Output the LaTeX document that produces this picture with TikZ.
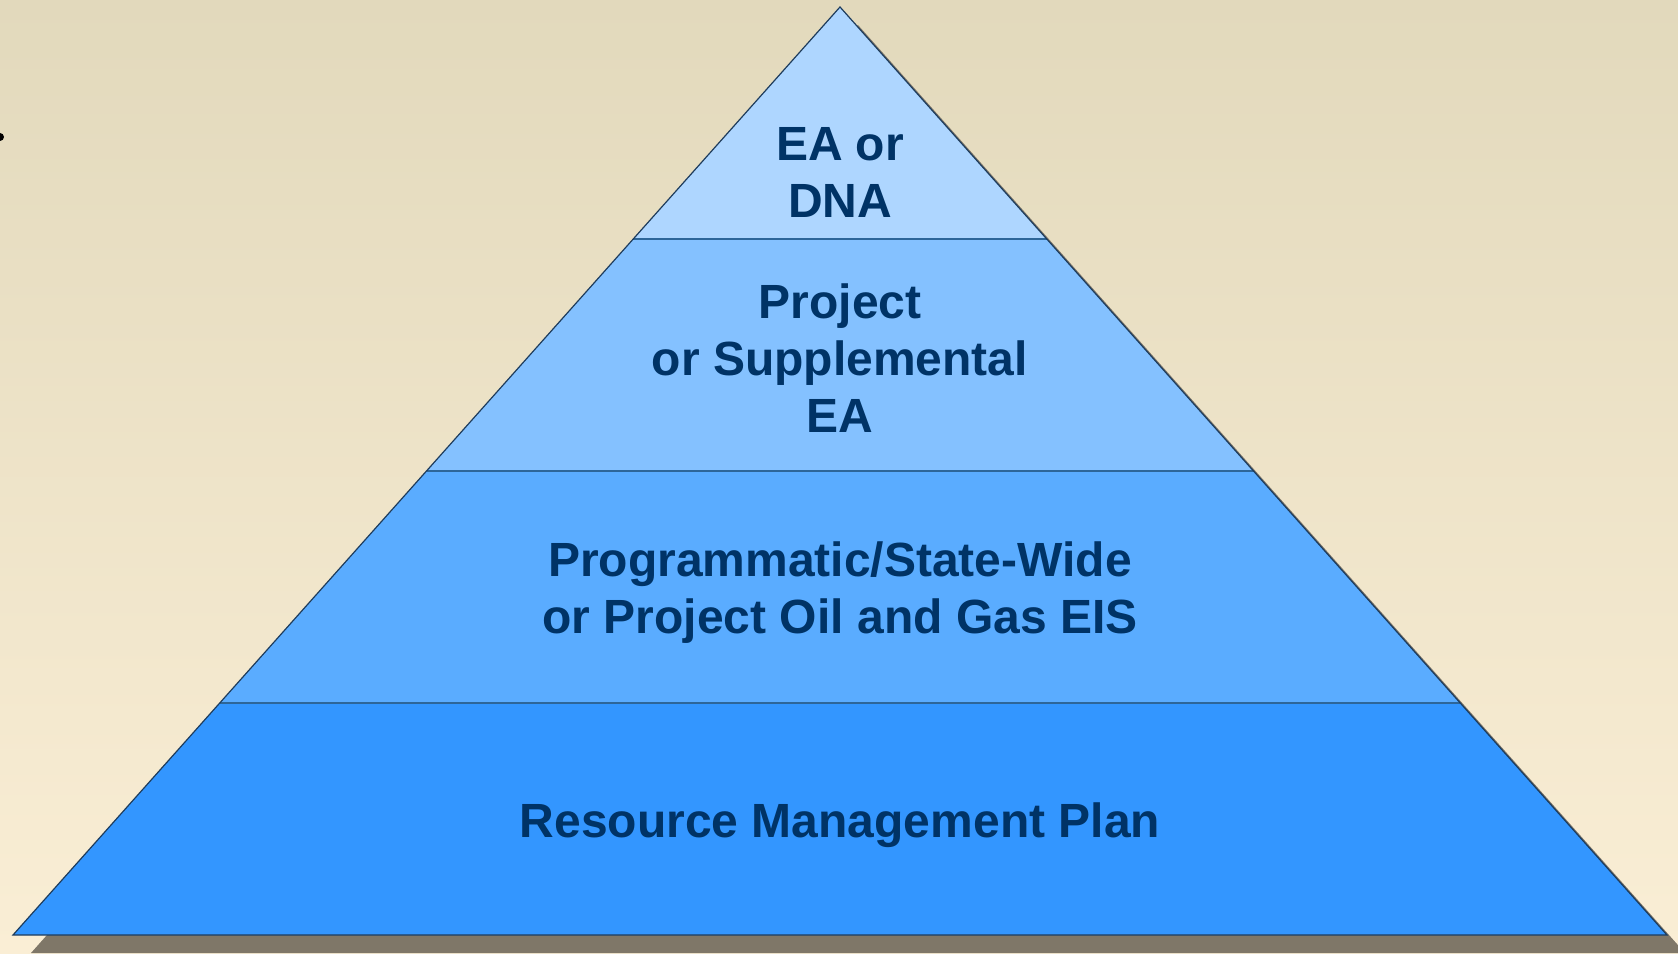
\documentclass[tikz,border=0pt]{standalone}
\usepackage{fontspec}
\setmainfont{Liberation Sans}
\usetikzlibrary{calc}

\definecolor{bgtop}{HTML}{E2D9BC}
\definecolor{bgbottom}{HTML}{FAEED5}
\definecolor{shadowgray}{HTML}{7F7768}
\definecolor{edgeblue}{HTML}{1E3C5C}
\definecolor{lineblue}{HTML}{2D6699}
\definecolor{textblue}{HTML}{003366}
\definecolor{tierA}{HTML}{AED6FF}
\definecolor{tierB}{HTML}{84C1FF}
\definecolor{tierC}{HTML}{5AACFF}
\definecolor{tierD}{HTML}{3396FF}

\tikzset{
    tierlabel/.style = {align = center, text = textblue, font = \fontsize{48}{57}\selectfont\bfseries},
    divider/.style = {draw = lineblue, line width = 1.5pt},
    outline/.style = {draw = edgeblue, line width = 1.2pt, line join = miter}
}

\begin{document}
\begin{tikzpicture}[x = 1pt, y = 1pt]
            \useasboundingbox (0, 0) rectangle (1678, 953);
            \clip (0, 0) rectangle (1678, 953);
            \shade[top color = bgtop, bottom color = bgbottom] (0, 0) rectangle (1678, 953);

            \coordinate (apex) at (840, 946);
            \coordinate (bl) at (13, 18);
            \coordinate (br) at (1667, 18);

            % shadow
            \fill[shadowgray] ($(apex) + (18, -18)$) -- ($(bl) + (18, -18)$) -- ($(br) + (18, -18)$) -- cycle;

            % tiers
            \foreach \i/\col in {0/tierA, 1/tierB, 2/tierC, 3/tierD} {
                \fill[\col] ($(apex)!{\i / 4}!(bl)$) -- ($(apex)!{(\i + 1) / 4}!(bl)$) -- ($(apex)!{(\i + 1) / 4}!(br)$) -- ($(apex)!{\i / 4}!(br)$) -- cycle;
            }

            \foreach \t in {0.25, 0.5, 0.75} {
                \draw[divider] ($(apex)!\t!(bl)$) -- ($(apex)!\t!(br)$);
            }

            \draw[outline] (apex) -- (bl) -- (br) -- cycle;

            \node[tierlabel] (ea) at (840, 781) {EA or\\DNA};
            \node[tierlabel] (supplemental) at (840, 595) {Project\\or Supplemental\\EA};
            \node[tierlabel] (eis) at (840, 360) {Programmatic/State-Wide\\or Project Oil and Gas EIS};
            \node[tierlabel] (rmp) at (840, 128) {Resource Management Plan};

            \fill[black] (0, 816) circle (4);
        \end{tikzpicture}
\end{document}
